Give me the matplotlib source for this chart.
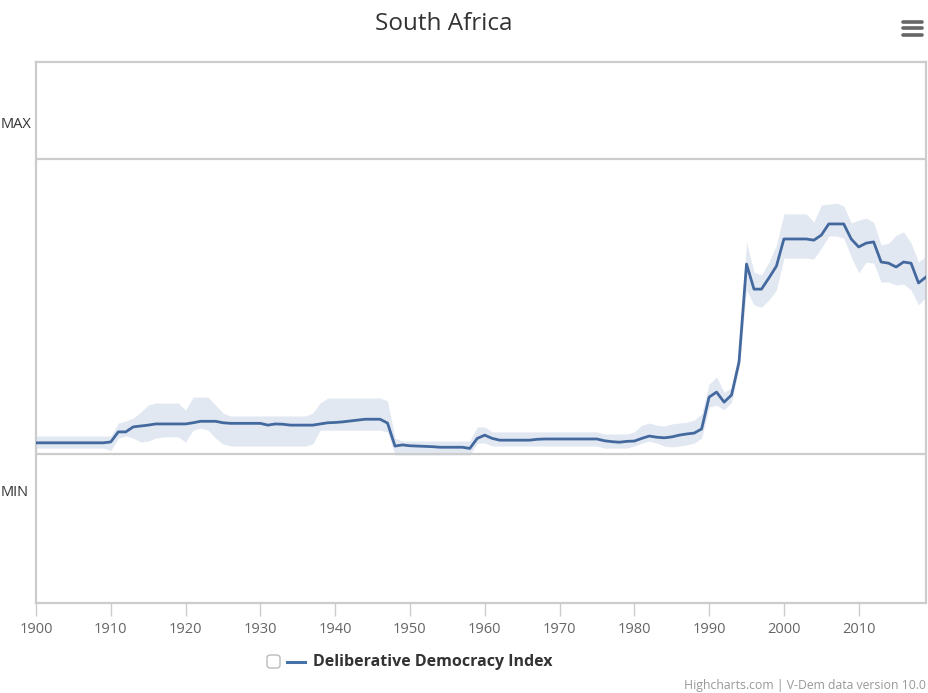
import matplotlib.pyplot as plt
from matplotlib.lines import Line2D
from matplotlib.patches import FancyBboxPatch
import numpy as np

# ---------------------------------------------------------
# DADOS
# ---------------------------------------------------------
anos = list(range(1900, 2020))

indice = (
    [0.038] * 10                                   # 1900-1909
    + [0.041, 0.075, 0.075, 0.092, 0.095, 0.098]   # 1910-1915
    + [0.102] * 5                                  # 1916-1920
    + [0.106, 0.111, 0.111, 0.111, 0.106]          # 1921-1925
    + [0.104] * 5                                  # 1926-1930
    + [0.098, 0.102, 0.101, 0.098, 0.098, 0.098, 0.098, 0.102, 0.106]  # 1931-1939
    + [0.107, 0.109, 0.112, 0.115, 0.118, 0.118, 0.118, 0.105]         # 1940-1947
    + [0.027, 0.031, 0.028, 0.027, 0.026, 0.025]   # 1948-1953
    + [0.023] * 4 + [0.019]                        # 1954-1958
    + [0.053, 0.064, 0.053]                        # 1959-1961
    + [0.047] * 5 + [0.050]                        # 1962-1967
    + [0.051] * 8                                  # 1968-1975
    + [0.045, 0.042, 0.040, 0.043, 0.044]          # 1976-1980
    + [0.053, 0.061, 0.057, 0.055, 0.058, 0.064, 0.068, 0.071, 0.085]  # 1981-1989
    + [0.193, 0.210, 0.176, 0.200, 0.312]          # 1990-1994
    + [0.644, 0.559, 0.559, 0.597, 0.637]          # 1995-1999
    + [0.729] * 4 + [0.725, 0.742]                 # 2000-2005
    + [0.780] * 3 + [0.729, 0.702, 0.715, 0.719]   # 2006-2012
    + [0.651, 0.647, 0.634, 0.651, 0.647, 0.580, 0.600]  # 2013-2019
)

superior = (
    [0.061] * 11                                   # 1900-1910
    + [0.105, 0.112, 0.122, 0.142, 0.166]          # 1911-1915
    + [0.173] * 4 + [0.149]                        # 1916-1920
    + [0.193, 0.193, 0.193, 0.166, 0.139]          # 1921-1925
    + [0.129] * 11                                 # 1926-1936
    + [0.139, 0.173]                               # 1937-1938
    + [0.190] * 8 + [0.180]                        # 1939-1947
    + [0.054] + [0.044] * 10                       # 1948-1958
    + [0.092, 0.092]                               # 1959-1960
    + [0.075] * 15                                 # 1961-1975
    + [0.068] * 4 + [0.075]                        # 1976-1980
    + [0.098, 0.105, 0.098, 0.095, 0.102, 0.105, 0.108, 0.115, 0.136]  # 1981-1989
    + [0.237, 0.261, 0.210, 0.224, 0.346]          # 1990-1994
    + [0.719, 0.617, 0.607, 0.651, 0.708]          # 1995-1999
    + [0.814] * 4 + [0.786, 0.844]                 # 2000-2005
    + [0.847, 0.851, 0.841, 0.783, 0.793, 0.800, 0.786]  # 2006-2012
    + [0.708, 0.715, 0.742, 0.753, 0.715, 0.651, 0.671]  # 2013-2019
)

inferior = (
    [0.020] * 10 + [0.012]                         # 1900-1910
    + [0.054, 0.061, 0.054, 0.041, 0.044]          # 1911-1915
    + [0.054, 0.058, 0.058, 0.058, 0.041]          # 1916-1920
    + [0.081, 0.088, 0.081, 0.054, 0.034]          # 1921-1925
    + [0.027] * 11                                 # 1926-1936
    + [0.034, 0.081]                               # 1937-1938
    + [0.081] * 8 + [0.075]                        # 1939-1947
    + [-0.003] * 11                                # 1948-1958
    + [0.037, 0.037]                               # 1959-1960
    + [0.027] * 15                                 # 1961-1975
    + [0.020] * 4 + [0.027]                        # 1976-1980
    + [0.037, 0.044, 0.037, 0.027, 0.024, 0.027, 0.031, 0.037, 0.054]  # 1981-1989
    + [0.159, 0.166, 0.149, 0.176, 0.292]          # 1990-1994
    + [0.556, 0.505, 0.498, 0.522, 0.556]          # 1995-1999
    + [0.664] * 4 + [0.661, 0.698]                 # 2000-2005
    + [0.739, 0.739, 0.732, 0.668, 0.614, 0.651, 0.647]  # 2006-2012
    + [0.583, 0.583, 0.573, 0.576, 0.556, 0.505, 0.532]  # 2013-2019
)

ticks_x = list(range(1900, 2011, 10))

# ---------------------------------------------------------
# FIGURA
# ---------------------------------------------------------
W, H = 929, 693
fig = plt.figure(figsize=(W / 100, H / 100), dpi=100)
fig.patch.set_facecolor("white")

# área do gráfico em pixels: x 36..926, y 62..603
ax = fig.add_axes([36 / W, (H - 603) / H, 890 / W, 541 / H])

azul = "#4572a7"
ax.fill_between(anos, inferior, superior, color="#e2e8f2", linewidth=0, zorder=1)
ax.plot(anos, indice, color="#44699e", linewidth=2.0, zorder=3)

ax.set_xlim(1900, 2019)
ax.set_ylim(-0.505, 1.329)

# linhas MIN / MAX
ax.axhline(0, color="#cccccc", linewidth=1.6, zorder=2)
ax.axhline(1, color="#cccccc", linewidth=1.6, zorder=2)

for s in ax.spines.values():
    s.set_color("#cccccc")
    s.set_linewidth(1.6)

ax.set_yticks([])
ax.set_xticks(ticks_x)
ax.set_xticklabels([str(t) for t in ticks_x], fontsize=10.5, color="#666666",
                   family="Open Sans")
ax.tick_params(axis="x", length=9, width=1, color="#cccccc", pad=5)

# rótulos MAX / MIN
ax.text(1 / W, 1 - 125 / H, "MAX", transform=fig.transFigure, ha="left",
        va="center", fontsize=10.5, color="#333333", family="Open Sans")
ax.text(1 / W, 1 - 493 / H, "MIN", transform=fig.transFigure, ha="left",
        va="center", fontsize=10.5, color="#333333", family="Open Sans")

# título
fig.text(444 / W, 1 - 24 / H, "South Africa", ha="center", va="center",
         fontsize=17.5, color="#333333", family="Open Sans")

# ícone de menu
for yy in (22, 28, 35):
    fig.add_artist(Line2D([903 / W, 922 / W], [1 - yy / H, 1 - yy / H],
                          color="#666666", linewidth=2.6, solid_capstyle="round"))

# legenda
fig.add_artist(FancyBboxPatch((267 / W, 1 - 668 / H), 13 / W, 13 / H,
                              boxstyle="round,pad=0,rounding_size=0.004",
                              transform=fig.transFigure, facecolor="white",
                              edgecolor="#bbbbbb", linewidth=1))
fig.add_artist(Line2D([287 / W, 305 / W], [1 - 662 / H, 1 - 662 / H],
                      color=azul, linewidth=2.2))
fig.text(313 / W, 1 - 662 / H, "Deliberative Democracy Index", ha="left",
         va="center", fontsize=11.5, fontweight="bold", color="#333333",
         family="Open Sans")

# créditos
fig.text(926 / W, 1 - 686 / H, "Highcharts.com | V-Dem data version 10.0",
         ha="right", va="center", fontsize=8.8, color="#999999",
         family="Open Sans")

fig.savefig("out.png", dpi=100, facecolor="white")
